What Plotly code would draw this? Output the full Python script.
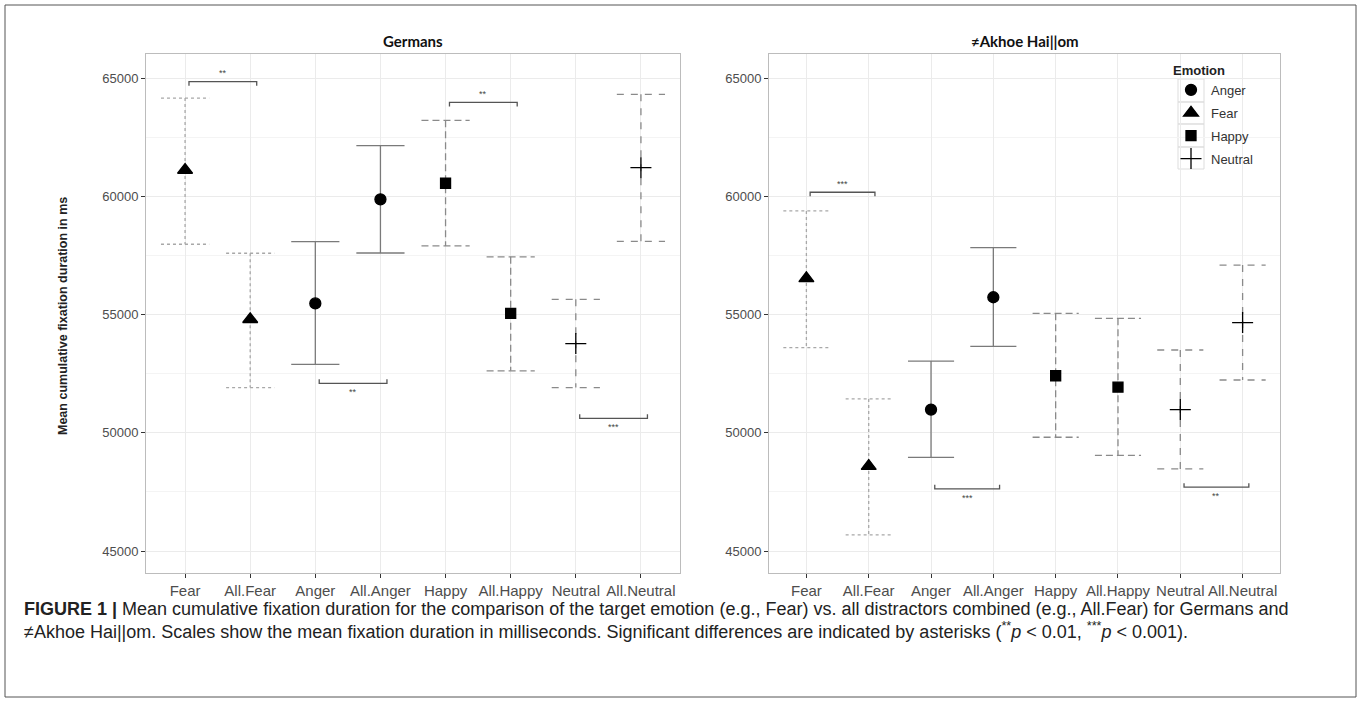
import plotly.graph_objects as go

W, H = 1358, 701

categories = ["Fear", "All.Fear", "Anger", "All.Anger", "Happy", "All.Happy", "Neutral", "All.Neutral"]
emotion_of = ["Fear", "Fear", "Anger", "Anger", "Happy", "Happy", "Neutral", "Neutral"]
emotions = ["Anger", "Fear", "Happy", "Neutral"]

germans_mean = [61110, 54800, 55470, 59870, 60550, 55050, 53770, 61210]
germans_lower = [57970, 51910, 52890, 57600, 57900, 52620, 51910, 58090]
germans_upper = [64150, 57590, 58080, 62140, 63210, 57440, 55640, 64310]

akhoe_mean = [56530, 48590, 50980, 55730, 52410, 51930, 50980, 54660]
akhoe_lower = [53600, 45680, 48960, 53650, 49810, 49040, 48470, 52230]
akhoe_upper = [59380, 51430, 53030, 57830, 55050, 54840, 53500, 57090]

# significance brackets: (first category index, bracket level, label, opening)
germans_sig_start = [1, 3, 5, 7]
germans_sig_y = [64845, 52090, 63970, 50610]
germans_sig_label = ["**", "**", "**", "***"]
germans_sig_open = ["down", "up", "down", "up"]

akhoe_sig_start = [1, 3, 7]
akhoe_sig_y = [60170, 47630, 47700]
akhoe_sig_label = ["***", "***", "**"]
akhoe_sig_open = ["down", "up", "up"]

y_ticks = [45000, 50000, 55000, 60000, 65000]

panel_titles = ["Germans", "\u2260Akhoe Hai||om"]

styles = {
    "Anger": dict(dash="solid", color="#7a7a7a", symbol="circle", size=11),
    "Fear": dict(dash="3px,3px", color="#a8a8a8", symbol="triangle-up", size=13),
    "Happy": dict(dash="7px,4px", color="#8a8a8a", symbol="square", size=10),
    "Neutral": dict(dash="7px,7px", color="#8a8a8a", symbol="cross-thin", size=15),
}

CAP = 0.37

def px_x(p):
    return p / W

def px_y(p):
    return 1 - p / H

fig = go.Figure()

panels = [
    dict(mean=germans_mean, lo=germans_lower, hi=germans_upper, xa="x", ya="y",
         sig=(germans_sig_start, germans_sig_y, germans_sig_label, germans_sig_open)),
    dict(mean=akhoe_mean, lo=akhoe_lower, hi=akhoe_upper, xa="x2", ya="y2",
         sig=(akhoe_sig_start, akhoe_sig_y, akhoe_sig_label, akhoe_sig_open)),
]

for pi, pan in enumerate(panels):
    # error bars, one trace per emotion (line type)
    for emo in emotions:
        xs, ys = [], []
        for i, cat in enumerate(categories):
            if emotion_of[i] != emo:
                continue
            pos = i + 1
            lo, hi = pan["lo"][i], pan["hi"][i]
            xs += [pos - CAP, pos + CAP, None, pos, pos, None, pos - CAP, pos + CAP, None]
            ys += [hi, hi, None, hi, lo, None, lo, lo, None]
        st = styles[emo]
        fig.add_trace(go.Scatter(x=xs, y=ys, mode="lines", xaxis=pan["xa"], yaxis=pan["ya"],
                                 line=dict(color=st["color"], width=1.3, dash=st["dash"]),
                                 showlegend=False, hoverinfo="skip"))
    # points
    for emo in emotions:
        xs = [i + 1 for i in range(len(categories)) if emotion_of[i] == emo]
        ys = [pan["mean"][i] for i in range(len(categories)) if emotion_of[i] == emo]
        st = styles[emo]
        fig.add_trace(go.Scatter(x=xs, y=ys, mode="markers", xaxis=pan["xa"], yaxis=pan["ya"],
                                 name=emo, legendgroup=emo, showlegend=(pi == 1),
                                 marker=dict(symbol=st["symbol"], size=st["size"], color="black",
                                             line=dict(color="black", width=1.3))))
    # significance brackets
    starts, levels, labels, opens = pan["sig"]
    for s, lv, lab, op in zip(starts, levels, labels, opens):
        x0, x1 = s + 0.06, s + 1 + 0.1
        drop = 170 if op == "down" else -170
        fig.add_trace(go.Scatter(x=[x0, x0, x1, x1], y=[lv - drop, lv, lv, lv - drop], mode="lines",
                                 xaxis=pan["xa"], yaxis=pan["ya"],
                                 line=dict(color="#555555", width=1.3),
                                 showlegend=False, hoverinfo="skip"))
        ty = lv + 360 if op == "down" else lv - 380
        fig.add_annotation(x=(x0 + x1) / 2, y=ty, xref=pan["xa"], yref=pan["ya"], text=lab,
                           showarrow=False, font=dict(size=9, color="#444444",
                                                      family="Liberation Sans"))

axis_common_x = dict(range=[0.4, 8.6], tickmode="array", tickvals=list(range(1, len(categories) + 1)),
                     ticktext=categories, showgrid=True, gridcolor="#ebebeb", gridwidth=1,
                     ticks="outside", ticklen=4, tickcolor="#333333", tickwidth=1,
                     showline=True, mirror=True, linecolor="#bcbcbc", linewidth=1,
                     zeroline=False, tickfont=dict(family="Liberation Sans", size=15, color="#4d4d4d"))
axis_common_y = dict(range=[44070, 66015], tickmode="array", tickvals=y_ticks,
                     ticktext=[str(v) for v in y_ticks], showgrid=True, gridcolor="#ebebeb",
                     ticks="outside", ticklen=4, tickcolor="#333333", tickwidth=1,
                     showline=True, mirror=True, linecolor="#bcbcbc", linewidth=1,
                     zeroline=False, tickfont=dict(family="Liberation Sans", size=13, color="#4d4d4d"),
                     minor=dict(tickmode="linear", tick0=42500, dtick=5000, showgrid=True,
                                gridcolor="#f4f4f4", ticks=""))

fig.update_layout(
    width=W, height=H,
    margin=dict(l=0, r=0, t=0, b=0),
    paper_bgcolor="white", plot_bgcolor="white",
    xaxis=dict(domain=[px_x(146), px_x(680)], anchor="y", **axis_common_x),
    yaxis=dict(domain=[px_y(573), px_y(54)], anchor="x", **axis_common_y),
    xaxis2=dict(domain=[px_x(769), px_x(1280)], anchor="y2", **axis_common_x),
    yaxis2=dict(domain=[px_y(573), px_y(54)], anchor="x2", **axis_common_y),
    legend=dict(x=px_x(1171), y=px_y(58), xanchor="left", yanchor="top",
                bgcolor="rgba(255,255,255,0)", tracegroupgap=3,
                title=dict(text="<b>Emotion</b>", font=dict(family="Liberation Sans", size=13, color="#222222")),
                font=dict(family="Liberation Sans", size=13, color="#333333"),
                itemwidth=30),
    showlegend=True,
)

# legend key boxes (ggplot-style key borders)
key_rows = [79, 102, 124, 147, 169]
for top, bot in zip(key_rows[:-1], key_rows[1:]):
    fig.add_shape(type="rect", xref="paper", yref="paper", x0=px_x(1178), x1=px_x(1204),
                  y0=px_y(bot), y1=px_y(top), line=dict(color="#dddddd", width=1),
                  fillcolor="rgba(0,0,0,0)", layer="below")

# panel titles
for title, cx in zip(panel_titles, [(146 + 680) / 2, (769 + 1280) / 2]):
    fig.add_annotation(x=px_x(cx), y=px_y(41), xref="paper", yref="paper", text="<b>" + title + "</b>",
                       showarrow=False, xanchor="center", yanchor="middle",
                       font=dict(family="Lato", size=15, color="#111111"))

# y-axis title
fig.add_annotation(x=px_x(63), y=px_y(316), xref="paper", yref="paper",
                   text="<b>Mean cumulative fixation duration in ms</b>", textangle=-90,
                   showarrow=False, xanchor="center", yanchor="middle",
                   font=dict(family="Liberation Sans", size=12.5, color="#222222"))

# caption
caption_lines = [
    "<b>FIGURE 1 |</b> Mean cumulative fixation duration for the comparison of the target emotion (e.g., Fear) vs. all distractors combined (e.g., All.Fear) for Germans and",
    "\u2260Akhoe Hai||om. Scales show the mean fixation duration in milliseconds. Significant differences are indicated by asterisks (<sup>**</sup><i>p</i> &lt; 0.01, <sup>***</sup><i>p</i> &lt; 0.001).",
]
for line, cy in zip(caption_lines, [609, 630]):
    fig.add_annotation(x=px_x(22), y=px_y(cy), xref="paper", yref="paper", text=line,
                       showarrow=False, xanchor="left", yanchor="middle",
                       font=dict(family="Liberation Sans", size=18, color="#222222"))

# outer frame
fig.add_shape(type="rect", xref="paper", yref="paper", x0=px_x(5), x1=px_x(1356), y0=px_y(697), y1=px_y(5),
              line=dict(color="#555555", width=1), fillcolor="rgba(0,0,0,0)", layer="above")

fig.write_html("out.html", config={"displayModeBar": False},
               post_script="document.body.style.margin='0px';document.body.style.overflow='hidden';")
